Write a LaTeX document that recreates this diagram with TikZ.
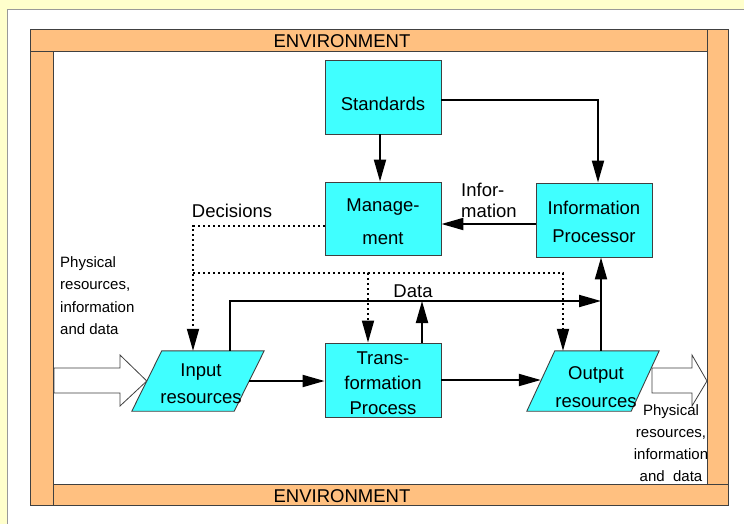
\documentclass[tikz,border=0pt]{standalone}
\usepackage{fontspec}
\setmainfont{Liberation Sans}
\usetikzlibrary{arrows.meta,calc,backgrounds}
\definecolor{bgyellow}{HTML}{FFFFCC}
\definecolor{envorange}{HTML}{FFC080}
\definecolor{boxcyan}{HTML}{40FFFF}
\definecolor{edgegray}{HTML}{404040}
\begin{document}
\begin{tikzpicture}[x=1pt,y=-1pt,
  box/.style={rectangle,draw=edgegray,fill=boxcyan,line width=0.9pt,minimum width=116pt,minimum height=74pt,inner sep=0pt},
  boxtxt/.style={inner sep=0pt,align=center,font=\fontsize{18.5}{28}\selectfont},
  paranode/.style={rectangle,minimum width=#1,minimum height=60pt,inner sep=0pt},
  para/.style={fill=boxcyan,draw=edgegray,line width=0.9pt},
  conn/.style={line width=2pt,-{Triangle[length=22pt,width=12pt]}},
  dec/.style={line width=1.8pt,dash pattern=on 1.8pt off 3.2pt},
  decarr/.style={dec,-{Triangle[length=22pt,width=12pt]}},
  strip/.style={fill=envorange,draw=edgegray,line width=0.8pt},
  lbl/.style={font=\fontsize{18.5}{21}\selectfont,inner sep=0pt},
  small/.style={font=\fontsize{15}{22.5}\selectfont,inner sep=0pt,align=left},
  hollow/.style={fill=white,draw=edgegray,line width=0.8pt}]
\useasboundingbox (0,0) rectangle (744,524);
\clip (0,0) rectangle (744,524);
\begin{scope}[on background layer]
  \fill[bgyellow] (0,0) rectangle (744,524);
  \draw[fill=white,draw=black!40,line width=0.8pt] (7,9) rectangle (760,540);
  \draw[strip] (30,29) rectangle (707,51);
  \draw[strip] (707,29) rectangle (728,484);
  \draw[strip] (53,484) rectangle (728,505);
  \draw[strip] (30,51) rectangle (53,505);
\end{scope}
\node[lbl] (envtop) at (342,41.5) {ENVIRONMENT};
\node[lbl] (envbot) at (342,496.5) {ENVIRONMENT};

% boxes
\node[box] (std) at (383,97) {};
\node[box,minimum height=73pt] (mgmt) at (383,218.5) {};
\node[box] (ip) at (594,220) {};
\node[box] (tp) at (383,380) {};
\node[paranode=102pt] (in) at (198,381) {};
\node[paranode=104pt] (out) at (593,381) {};
\begin{scope}[on background layer]
  \draw[para] ($(in.south west)+(-15,0)$) -- ($(in.south east)+(-15,0)$) -- ($(in.north east)+(15,0)$) -- ($(in.north west)+(15,0)$) -- cycle;
  \draw[para] ($(out.south west)+(-14,0)$) -- ($(out.south east)+(-14,0)$) -- ($(out.north east)+(14,0)$) -- ($(out.north west)+(14,0)$) -- cycle;
\end{scope}

% box texts
\node[boxtxt] (stdtxt) at ([yshift=-7pt]std.center) {Standards};
\node[boxtxt,font=\fontsize{18.5}{33}\selectfont] (mgmttxt) at ([yshift=-3pt]mgmt.center) {Manage-\\ment};
\node[boxtxt] (iptxt) at ([yshift=-2pt]ip.center) {Information\\Processor};
\node[boxtxt,font=\fontsize{18.5}{25}\selectfont] (tptxt) at ([yshift=-3pt]tp.center) {Trans-\\formation\\Process};
\node[boxtxt,font=\fontsize{18.5}{27}\selectfont] (intxt) at ([xshift=3pt,yshift=-3pt]in.center) {Input\\resources};
\node[boxtxt] (outtxt) at ([xshift=3pt,yshift=-6pt]out.center) {Output\\resources};

% hollow arrows
\draw[hollow] (54,368) -- (120,368) -- (120,355) -- (in.west) -- (120,406) -- (120,393) -- (54,393) -- cycle;
\draw[hollow] (652,368) -- (692,368) -- (692,355) -- (707,381) -- (692,406) -- (692,393) -- (652,393) -- cycle;

% solid connectors
\draw[conn] ([xshift=-3pt]std.south) -- ([xshift=-3pt]mgmt.north);
\draw[conn] ([yshift=-3pt]std.east) -| ([xshift=4pt]ip.north);
\draw[conn] ([yshift=-4pt]ip.west) -- ([yshift=-4pt]ip.west -| mgmt.east);
\draw[conn] (in.east) -- (in.east -| tp.west);
\draw[conn] (tp.east) -- (tp.east -| out.west);
\coordinate (dm) at (601,301);
\draw[conn] ([xshift=32pt]in.north) |- (dm);
\draw[conn] ([xshift=39pt]tp.north) -- ([xshift=39pt]tp.north |- dm);
\draw[conn] ([xshift=8pt]out.north) -- ([xshift=8pt]out.north |- ip.south);

% dotted decisions
\draw[decarr] ([yshift=-7.5pt]mgmt.west) -| ([xshift=-5pt]in.north);
\coordinate (dj) at (193,273);
\draw[decarr] (dj) -| ([xshift=-15pt]tp.north);
\draw[decarr] (dj) -| ([xshift=-30pt]out.north);

% labels
\node[lbl] (declbl) at (232,211) {Decisions};
\node[lbl,align=left,anchor=west] (infolbl) at (461,200) {Infor-\\mation};
\node[lbl] (datalbl) at (413,291) {Data};
\node[small,anchor=north west] (inlbl) at (60,256) {Physical\\resources,\\information\\and data};
\node[small,align=center,anchor=north,font=\fontsize{15}{22}\selectfont] (outlbl) at (671,404) {Physical\\resources,\\information\\and\ \ data};
\end{tikzpicture}
\end{document}
